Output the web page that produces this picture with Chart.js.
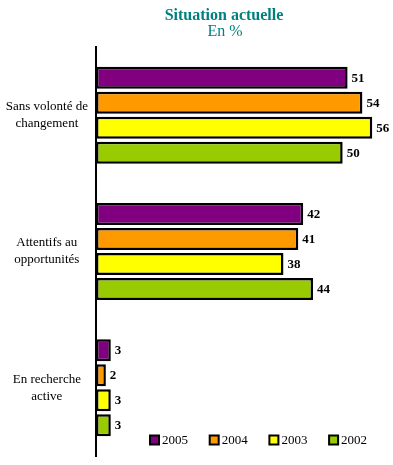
<!DOCTYPE html>
<html>
<head>
<meta charset="utf-8">
<script src="https://cdn.jsdelivr.net/npm/chart.js@4/dist/chart.umd.min.js"></script>
<style>
html,body{margin:0;padding:0;background:#fff;}
canvas{display:block;}
</style>
</head>
<body>
<canvas id="c" width="393" height="465"></canvas>
<script>
const categories = [["Sans volonté de","changement"],["Attentifs au","opportunités"],["En recherche","active"]];
const seriesNames = ["2005","2004","2003","2002"];
const values2005 = [51, 42, 3];
const values2004 = [54, 41, 2];
const values2003 = [56, 38, 3];
const values2002 = [50, 44, 3];
const seriesColors = ["#800080","#FF9900","#FFFF00","#99CC00"];
const titleLines = ["Situation actuelle","En %"];

const SERIF = '"Liberation Serif","Times New Roman",serif';

const titlePlugin = {
  id: 'customTitle',
  afterDraw(chart){
    const ctx = chart.ctx;
    ctx.save();
    ctx.fillStyle = '#007F7F';
    ctx.textAlign = 'center';
    ctx.textBaseline = 'alphabetic';
    ctx.font = 'bold 16px ' + SERIF;
    ctx.fillText(titleLines[0], 224, 19.5);
    ctx.font = '16px ' + SERIF;
    ctx.fillText(titleLines[1], 225, 36);
    ctx.restore();
  }
};

const valueLabels = {
  id: 'valueLabels',
  afterDatasetsDraw(chart){
    const ctx = chart.ctx;
    ctx.save();
    ctx.fillStyle = '#000';
    ctx.font = 'bold 13px ' + SERIF;
    ctx.textAlign = 'left';
    ctx.textBaseline = 'middle';
    chart.data.datasets.forEach((ds, i) => {
      const meta = chart.getDatasetMeta(i);
      meta.data.forEach((el, j) => {
        ctx.fillText(String(ds.data[j]), el.x + 4, el.y + 0.5);
      });
    });
    ctx.restore();
  }
};

const legendPlugin = {
  id: 'customLegend',
  afterDraw(chart){
    const ctx = chart.ctx;
    ctx.save();
    ctx.font = '13px ' + SERIF;
    ctx.textAlign = 'left';
    ctx.textBaseline = 'middle';
    chart.data.datasets.forEach((ds, i) => {
      const x = 150 + i * 59.7;
      const y = 435.5;
      ctx.fillStyle = ds.backgroundColor;
      ctx.fillRect(x, y, 9, 9);
      ctx.lineWidth = 2;
      ctx.strokeStyle = '#000';
      ctx.strokeRect(x, y, 9, 9);
      ctx.fillStyle = '#000';
      ctx.fillText(ds.label, x + 12, y + 5);
    });
    ctx.restore();
  }
};

const datasets = [values2005, values2004, values2003, values2002].map((v, i) => ({
  label: seriesNames[i],
  data: v,
  backgroundColor: seriesColors[i],
  borderColor: '#000',
  borderWidth: 2.5,
  borderSkipped: false,
  categoryPercentage: 0.734,
  barPercentage: 0.88
}));

new Chart(document.getElementById('c'), {
  type: 'bar',
  data: { labels: categories, datasets },
  options: {
    indexAxis: 'y',
    responsive: false,
    devicePixelRatio: 1,
    animation: false,
    layout: { padding: { top: 47, bottom: 9, left: 0, right: 1 } },
    plugins: {
      legend: { display: false },
      title: { display: false },
      tooltip: { enabled: false }
    },
    scales: {
      x: { display: false, min: 0, max: 60 },
      y: {
        grid: { display: false, drawTicks: false },
        border: { display: true, color: '#000', width: 2 },
        ticks: {
          crossAlign: 'center',
          padding: 8,
          color: '#000',
          font: { family: SERIF, size: 13, lineHeight: 1.3 }
        },
        afterFit(scale){
          scale.width = 96;
          scale.paddingTop = 0;
          scale.paddingBottom = 0;
        }
      }
    }
  },
  plugins: [titlePlugin, valueLabels, legendPlugin]
});
</script>
</body>
</html>
